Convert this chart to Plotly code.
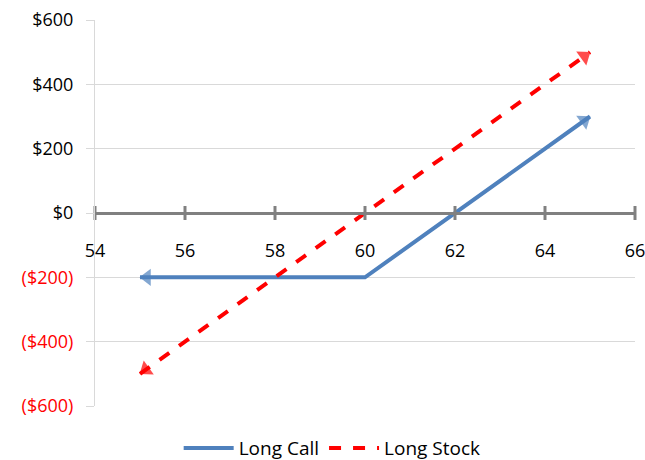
import plotly.graph_objects as go

# Payoff at expiration for a long call (strike 60, premium $200) and long stock bought at 60
call_price = [55, 60, 65]
call_pnl = [-200, -200, 300]
stock_price = [55, 65]
stock_pnl = [-500, 500]

x_ticks = [54, 56, 58, 60, 62, 64, 66]
y_ticks = [-600, -400, -200, 0, 200, 400, 600]
y_labels = ["($600)", "($400)", "($200)", "$0", "$200", "$400", "$600"]

BLUE = "#4F81BD"
RED = "#FF0000"
GRID = "#D9D9D9"
AXIS = "#808080"
FONT = "Open Sans"
FSIZE = 18

def fmt_label(v, txt):
    return f"<span style='color:{RED}'>{txt}</span>" if v < 0 else txt

fig = go.Figure()

fig.add_trace(go.Scatter(
    x=call_price, y=call_pnl, mode="lines", name="Long Call",
    line=dict(color=BLUE, width=4),
))
fig.add_trace(go.Scatter(
    x=stock_price, y=stock_pnl, mode="lines", name="Long Stock",
    line=dict(color=RED, width=4, dash="dash"),
))

# arrowheads at both ends of each line, oriented along the segment
def arrow_trace(xs, ys, color):
    ax = [xs[1], xs[0], xs[-2], xs[-1]]
    ay = [ys[1], ys[0], ys[-2], ys[-1]]
    return go.Scatter(
        x=ax, y=ay, mode="markers", showlegend=False, hoverinfo="skip",
        marker=dict(symbol="triangle-up", angleref="previous", size=[0, 15, 0, 15],
                    standoff=7, color=color, line=dict(width=0)),
    )

fig.add_trace(arrow_trace(call_price, call_pnl, BLUE))
fig.add_trace(arrow_trace(stock_price, stock_pnl, RED))

# cross tick marks on the horizontal axis through zero
fig.add_trace(go.Scatter(
    x=x_ticks, y=[0] * len(x_ticks), mode="markers", showlegend=False,
    hoverinfo="skip", cliponaxis=False,
    marker=dict(symbol="line-ns", size=10, line=dict(color=AXIS, width=3)),
))

fig.update_layout(
    width=645, height=460,
    margin=dict(l=95, r=10, t=20, b=54, autoexpand=False),
    paper_bgcolor="white", plot_bgcolor="white",
    font=dict(family=FONT, size=FSIZE, color="black"),
    showlegend=True,
    legend=dict(orientation="h", xref="container", yref="container",
                x=0.515, xanchor="center", y=0.026, yanchor="middle",
                font=dict(family=FONT, size=19), itemwidth=50),
    xaxis=dict(
        range=[54, 66], tickvals=x_ticks, ticktext=[str(v) for v in x_ticks],
        anchor="free", position=0.5, showline=True, linecolor=AXIS, linewidth=3,
        ticks="", showgrid=False, zeroline=False, ticklabelstandoff=20,
        ticklabeloverflow="allow",
        tickfont=dict(family=FONT, size=FSIZE, color="black"),
    ),
    yaxis=dict(
        range=[-600, 600], tickvals=y_ticks,
        ticktext=[fmt_label(v, t) for v, t in zip(y_ticks, y_labels)],
        showline=True, linecolor=GRID, linewidth=1,
        ticks="outside", ticklen=8, tickcolor=GRID,
        showgrid=True, gridcolor=GRID, gridwidth=1, zeroline=False,
        ticklabelstandoff=9, ticklabeloverflow="allow",
        tickfont=dict(family=FONT, size=FSIZE, color="black"),
    ),
)

fig.write_html("out.html")
